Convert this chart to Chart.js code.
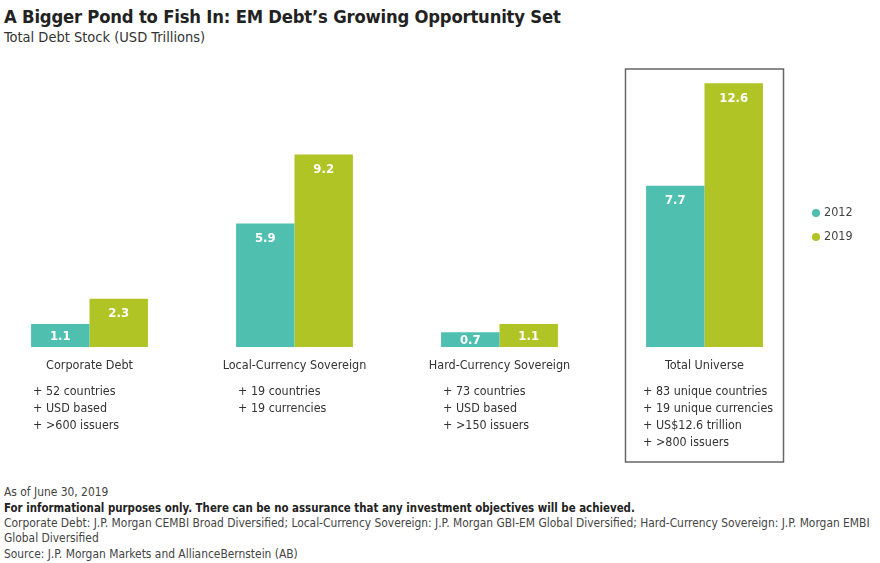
<!DOCTYPE html>
<html>
<head>
<meta charset="utf-8">
<script src="https://cdn.jsdelivr.net/npm/chart.js@4.4.1/dist/chart.umd.min.js"></script>
<style>
  body { margin: 0; background: #fff; width: 880px; height: 563px; overflow: hidden; position: relative; }
  .t { position: absolute; left: 4px; white-space: nowrap; color: #333; }
  #title { top: 6px; font: bold 18.3px "DejaVu Sans Condensed", sans-serif; color: #222; letter-spacing: -0.2px; }
  #sub { top: 29px; font: 14.5px "DejaVu Sans Condensed", sans-serif; color: #333; }
  .fn { font: 11.9px "DejaVu Sans Condensed", sans-serif; color: #444; }
  #wrap { position: absolute; left: -13px; top: 0; width: 893px; height: 563px; }
</style>
</head>
<body>
<div id="title" class="t">A Bigger Pond to Fish In: EM Debt’s Growing Opportunity Set</div>
<div id="sub" class="t">Total Debt Stock (USD Trillions)</div>
<div class="t fn" style="top:485px">As of June 30, 2019</div>
<div class="t fn" style="top:501px;font-weight:bold;font-size:11.4px;color:#222">For informational purposes only. There can be no assurance that any investment objectives will be achieved.</div>
<div class="t fn" style="top:516px">Corporate Debt: J.P. Morgan CEMBI Broad Diversified; Local-Currency Sovereign: J.P. Morgan GBI-EM Global Diversified; Hard-Currency Sovereign: J.P. Morgan EMBI</div>
<div class="t fn" style="top:531px">Global Diversified</div>
<div class="t fn" style="top:547px">Source: J.P. Morgan Markets and AllianceBernstein (AB)</div>
<div id="wrap"><canvas id="chart"></canvas></div>
<script>
var categories = ["Corporate Debt", "Local-Currency Sovereign", "Hard-Currency Sovereign", "Total Universe"];
var values2012 = [1.1, 5.9, 0.7, 7.7];
var values2019 = [2.3, 9.2, 1.1, 12.6];
var seriesNames = ["2012", "2019"];
var details = [
    ["+ 52 countries", "+ USD based", "+ >600 issuers"],
    ["+ 19 countries", "+ 19 currencies"],
    ["+ 73 countries", "+ USD based", "+ >150 issuers"],
    ["+ 83 unique countries", "+ 19 unique currencies", "+ US$12.6 trillion", "+ >800 issuers"]
];
var colors = ["#4fbfb0", "#b1c425"];

var overlay = {
    id: "overlay",
    afterDatasetsDraw: function (chart) {
        var ctx = chart.ctx;
        var xs = chart.scales.x;
        var base = chart.chartArea.bottom;
        ctx.save();

        // values inside bars
        ctx.fillStyle = "#fff";
        ctx.font = "bold 13px 'DejaVu Sans Condensed', sans-serif";
        ctx.textAlign = "center";
        ctx.textBaseline = "middle";
        chart.data.datasets.forEach(function (ds, di) {
            chart.getDatasetMeta(di).data.forEach(function (bar, i) {
                var y = Math.min(bar.y + 15, (bar.y + base) / 2 + 1);
                ctx.fillText(ds.data[i].toFixed(1), bar.x, y);
            });
        });

        // category names and notes
        for (var i = 0; i < categories.length; i++) {
            var cx = xs.getPixelForValue(i);
            var left = chart.getDatasetMeta(0).data[i].x - chart.getDatasetMeta(0).data[i].width / 2;
            ctx.fillStyle = "#333";
            ctx.textAlign = "center";
            ctx.font = "12.5px 'DejaVu Sans Condensed', sans-serif";
            ctx.fillText(categories[i], cx, base + 19);
            ctx.textAlign = "left";
            ctx.font = "12.4px 'DejaVu Sans Condensed', sans-serif";
            var lx = i === 3 ? left - 3 : left + 2;
            details[i].forEach(function (line, k) {
                ctx.fillText(line, lx, base + 45 + k * 17);
            });
        }

        // box around the total
        var tx = xs.getPixelForValue(3);
        ctx.strokeStyle = "#666";
        ctx.lineWidth = 1.5;
        ctx.strokeRect(tx - 79, 69, 158, 393);

        // legend
        ctx.font = "12.5px 'DejaVu Sans Condensed', sans-serif";
        ctx.textAlign = "left";
        seriesNames.forEach(function (name, k) {
            var ly = 213 + k * 24;
            ctx.fillStyle = colors[k];
            ctx.beginPath();
            ctx.arc(829, ly, 4, 0, Math.PI * 2);
            ctx.fill();
            ctx.fillStyle = "#444";
            ctx.fillText(name, 837, ly);
        });
        ctx.restore();
    }
};

var ctx = document.getElementById("chart").getContext("2d");
var myChart = new Chart(ctx, {
    type: "bar",
    data: {
        labels: categories,
        datasets: [{
            label: seriesNames[0],
            data: values2012,
            backgroundColor: colors[0]
        }, {
            label: seriesNames[1],
            data: values2019,
            backgroundColor: colors[1]
        }]
    },
    options: {
        responsive: true,
        maintainAspectRatio: false,
        animation: false,
        layout: { padding: { top: 54, bottom: 216, left: 0, right: 73 } },
        categoryPercentage: 0.57,
        barPercentage: 1.0,
        plugins: { legend: { display: false }, tooltip: { enabled: false } },
        scales: {
            x: { display: false },
            y: { display: false, min: 0, max: 14 }
        }
    },
    plugins: [overlay]
});
</script>
</body>
</html>
